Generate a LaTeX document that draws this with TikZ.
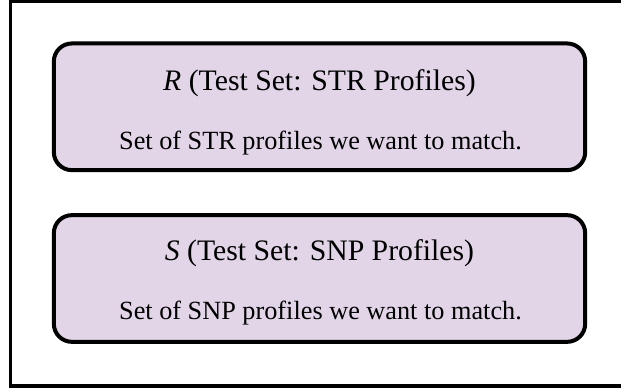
\documentclass[tikz,border=0pt]{standalone}
\usepackage{fontspec}
\setmainfont{Liberation Serif}
\begin{document}
\begin{tikzpicture}[x=0.75pt,y=-0.75pt,
  setbox/.style={draw=black, fill=setfill, line width=3pt, rounded corners=13.5pt,
    minimum width=398.5pt, minimum height=95pt, inner sep=0pt},
  settitle/.style={anchor=base, inner sep=0pt, font=\fontsize{22.3}{26}\selectfont},
  setdesc/.style={anchor=base, inner sep=0pt, font=\fontsize{19.7}{23}\selectfont}]
\definecolor{setfill}{HTML}{E1D5E7}
\useasboundingbox (0,0) rectangle (621,388);
% outer frame
\draw[line width=2.6pt] (10.5,1) rectangle (640,386);
% test set R
\node[setbox] (rbox) at (319.5,106.8) {};
\node[settitle] (rtitle) at (319.5,90.7) {\textit{R} (Test Set: STR Profiles)};
\node[setdesc] (rdesc) at (320.5,150) {Set of STR profiles we want to match.};
% test set S
\node[setbox] (sbox) at (319.5,278.5) {};
\node[settitle] (stitle) at (319.5,260.7) {\textit{S} (Test Set: SNP Profiles)};
\node[setdesc] (sdesc) at (320.5,320) {Set of SNP profiles we want to match.};
\end{tikzpicture}
\end{document}
